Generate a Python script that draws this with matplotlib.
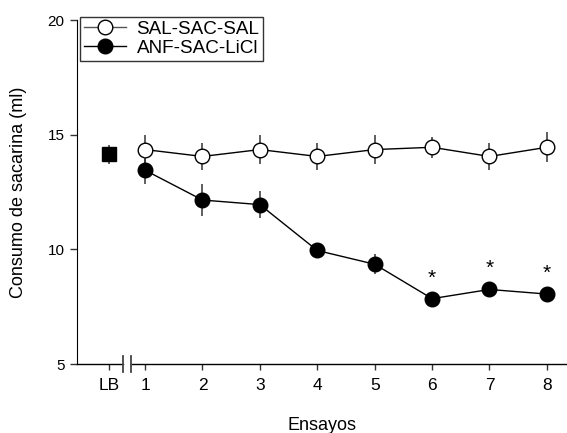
import matplotlib
matplotlib.use("Agg")
import matplotlib.pyplot as plt
from matplotlib.lines import Line2D
plt.rcdefaults()
import numpy as np

plt.rcParams['font.family'] = ['Liberation Sans', 'DejaVu Sans']

# Trial positions (LB is the baseline shown before the axis break)
lb_pos = 0.37
trials = [1, 2, 3, 4, 5, 6, 7, 8]
tick_labels = ['LB', '1', '2', '3', '4', '5', '6', '7', '8']

# Baseline
lb_mean = 14.15
lb_err = 0.42

# SAL-SAC-SAL
sal_mean = [14.35, 14.05, 14.35, 14.05, 14.35, 14.45, 14.05, 14.45]
sal_err = [0.65, 0.6, 0.65, 0.58, 0.65, 0.45, 0.58, 0.65]

# ANF-SAC-LiCl
anf_mean = [13.45, 12.15, 11.95, 9.95, 9.35, 7.85, 8.25, 8.05]
anf_err = [0.58, 0.7, 0.6, 0.2, 0.44, 0.2, 0.2, 0.2]

# trials marked as significant
signif = [6, 7, 8]

fig = plt.figure(figsize=(5.67, 4.33), dpi=100)
ax = fig.add_axes([77 / 567, (433 - 364) / 433, 490 / 567, 344 / 433])

ax.errorbar(trials, sal_mean, yerr=sal_err, color='black', ecolor='#333333',
            elinewidth=1.1, lw=1, marker='o', ms=10.5, mfc='white', mec='black',
            mew=1, capsize=0, zorder=3)
ax.errorbar(trials, anf_mean, yerr=anf_err, color='black', ecolor='#333333',
            elinewidth=1.1, lw=1, marker='o', ms=10.5, mfc='black', mec='black',
            capsize=0, zorder=4)
ax.errorbar([lb_pos], [lb_mean], yerr=[lb_err], color='black', ecolor='#333333',
            elinewidth=1.1, marker='s', ms=9.5, capsize=0, zorder=3)

for t in signif:
    ax.text(t, anf_mean[trials.index(t)] + 0.9, '*', ha='center', va='center',
            fontsize=15)

xmin, xmax = -0.185, 8.35
ax.set_xlim(xmin, xmax)
ax.set_ylim(5, 20)
ax.set_yticks([5, 10, 15, 20])
ax.set_xticks([lb_pos] + trials)
ax.set_xticklabels(tick_labels)
ax.tick_params(axis='y', direction='out', length=5, width=1, labelsize=11,
               color='#333333', pad=4)
ax.tick_params(axis='x', direction='out', length=4, width=1, labelsize=12.5,
               color='#333333', pad=6)

ax.spines['top'].set_visible(False)
ax.spines['right'].set_visible(False)
ax.spines['bottom'].set_visible(False)

# x axis with a break between LB and trial 1
b1, b2 = 0.617, 0.756
ax.plot([xmin, b1], [5, 5], color='black', lw=1, clip_on=False, zorder=5)
ax.plot([b2, xmax], [5, 5], color='black', lw=1, clip_on=False, zorder=5)
for b in [b1, b2]:
    ax.plot([b, b], [4.65, 5.35], color='#444444', lw=1.3, clip_on=False, zorder=5)

ax.set_ylabel('Consumo de sacarina (ml)', fontsize=13)
ax.set_xlabel('Ensayos', fontsize=13)
ax.yaxis.set_label_coords(-0.102, 0.5)
ax.xaxis.set_label_coords(0.5, -0.155)

# legend handles without the error bars
handles = [Line2D([], [], color='#555555', lw=1, marker='o', ms=10.5,
                  mfc='white', mec='black'),
           Line2D([], [], color='black', lw=1, marker='o', ms=10.5,
                  mfc='black', mec='black')]
leg = ax.legend(handles, ['SAL-SAC-SAL', 'ANF-SAC-LiCl'], loc='upper left',
                bbox_to_anchor=(0.006, 1.009), fontsize=13.6,
                frameon=True, fancybox=False, edgecolor='black', handlelength=2.25,
                borderpad=0.2, labelspacing=0.1, handletextpad=0.55,
                borderaxespad=0)
leg.get_frame().set_linewidth(1)

plt.savefig("out.png", dpi=100)
plt.close()
